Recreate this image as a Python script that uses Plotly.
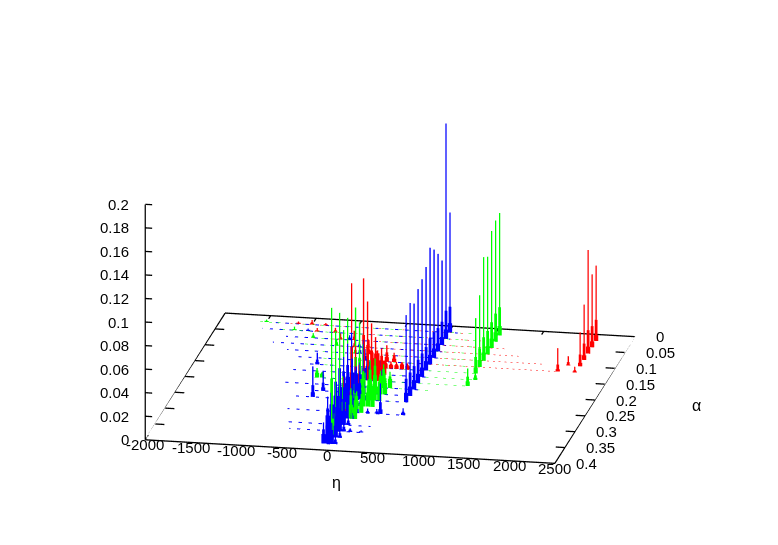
import plotly.graph_objects as go

ETA_RANGE = [-2000, 2500]
ALPHA_RANGE = [0.4, 0]
Z_RANGE = [0, 0.2]
ETA_TICKS = [-2000, -1500, -1000, -500, 0, 500, 1000, 1500, 2000, 2500]
ALPHA_TICKS = [0, 0.05, 0.1, 0.15, 0.2, 0.25, 0.3, 0.35, 0.4]
Z_TICKS = [0, 0.02, 0.04, 0.06, 0.08, 0.1, 0.12, 0.14, 0.16, 0.18, 0.2]

# Peaks: alpha, eta, top height, shoulder height, foot height
RED_A = [0.02, 0.04, 0.06, 0.08, 0.10, 0.12, 0.10, 0.12,
         0.26, 0.20, 0.18, 0.16, 0.14, 0.22, 0.24, 0.28, 0.30,
         0.16, 0.16, 0.16, 0.14, 0.14, 0.14, 0.12, 0.12,
         0.18, 0.18, 0.18, 0.16, 0.16, 0.14, 0.14,
         0.02, 0.02, 0.02, 0.04, 0.04, 0.06, 0.06, 0.08, 0.08, 0.10]
RED_E = [2120, 2120, 2120, 2120, 2120, 1918, 1990, 2105,
         -40, -40, -40, -40, -40, -40, -40, -40, -40,
         -30, 40, 100, 70, 130, 190, 40, 120,
         20, 70, 120, 10, 70, 250, 310,
         -1150, -1000, -850, -900, -700, -600, -450, -400, -250, -200]
RED_H = [0.064, 0.062, 0.088, 0.047, 0.029, 0.020, 0.008, 0.005,
         0.104, 0.092, 0.067, 0.043, 0.026, 0.050, 0.045, 0.040, 0.035,
         0.016, 0.018, 0.012, 0.007, 0.006, 0.006, 0.014, 0.008,
         0.024, 0.026, 0.020, 0.020, 0.022, 0.006, 0.005,
         0.002, 0.004, 0.002, 0.003, 0.004, 0.005, 0.008, 0.008, 0.007, 0.012]
RED_S = [0.018, 0.018, 0.020, 0.014, 0.010, 0.006, 0.003, 0.002,
         0.050, 0.044, 0.030, 0.020, 0.012, 0.024, 0.020, 0.018, 0.016,
         0.012, 0.012, 0.009, 0.005, 0.004, 0.004, 0.008, 0.006,
         0.018, 0.020, 0.016, 0.015, 0.016, 0.005, 0.004,
         0.001, 0.002, 0.001, 0.001, 0.002, 0.002, 0.003, 0.003, 0.003, 0.004]
RED_F = [0.005, 0.005, 0.006, 0.004, 0.003, 0.002, 0.001, 0.001,
         0.012, 0.012, 0.012, 0.010, 0.008, 0.010, 0.010, 0.010, 0.008,
         0.008, 0.008, 0.006, 0.004, 0.003, 0.003, 0.004, 0.003,
         0.012, 0.014, 0.012, 0.010, 0.012, 0.004, 0.003,
         0.001, 0.001, 0.001, 0.001, 0.001, 0.001, 0.001, 0.001, 0.001, 0.002]

GREEN_A = [0.02, 0.04, 0.06, 0.08, 0.10, 0.12, 0.14, 0.18, 0.16,
           0.36, 0.34, 0.32, 0.30, 0.28, 0.26, 0.24, 0.22, 0.20,
           0.18, 0.18, 0.26, 0.26, 0.24, 0.24, 0.22, 0.22, 0.20, 0.28, 0.28,
           0.30, 0.30, 0.26, 0.24, 0.22, 0.20,
           0.02, 0.04, 0.06, 0.08, 0.10]
GREEN_E = [1060, 1060, 1060, 1060, 1060, 1060, 1060, 1060, 1100,
           -40, -40, -40, -40, -40, -40, -40, -40, -40,
           -595, -540, 90, 140, 120, 170, 130, 190, 180, 60, 110,
           40, 85, 190, 220, 240, 250,
           -1500, -1150, -900, -600, -350]
GREEN_H = [0.104, 0.103, 0.0995, 0.083, 0.088, 0.061, 0.047, 0.015, 0.006,
           0.110, 0.085, 0.095, 0.075, 0.080, 0.070, 0.078, 0.060, 0.079,
           0.008, 0.005, 0.030, 0.022, 0.034, 0.026, 0.030, 0.020, 0.020, 0.018, 0.016,
           0.026, 0.022, 0.018, 0.020, 0.018, 0.014,
           0.002, 0.003, 0.004, 0.006, 0.008]
GREEN_S = [0.024, 0.024, 0.022, 0.020, 0.020, 0.016, 0.014, 0.008, 0.004,
           0.050, 0.040, 0.045, 0.036, 0.038, 0.034, 0.036, 0.030, 0.036,
           0.006, 0.004, 0.024, 0.018, 0.026, 0.020, 0.024, 0.016, 0.016, 0.014, 0.012,
           0.020, 0.016, 0.014, 0.016, 0.014, 0.010,
           0.001, 0.001, 0.002, 0.003, 0.003]
GREEN_F = [0.008, 0.008, 0.008, 0.007, 0.007, 0.006, 0.005, 0.004, 0.002,
           0.016, 0.015, 0.015, 0.014, 0.014, 0.013, 0.013, 0.012, 0.012,
           0.004, 0.003, 0.016, 0.012, 0.018, 0.014, 0.016, 0.012, 0.010, 0.010, 0.008,
           0.012, 0.010, 0.010, 0.012, 0.010, 0.008,
           0.001, 0.001, 0.001, 0.001, 0.001]

BLUE_A = [0.02, 0.04, 0.06, 0.08, 0.10, 0.12, 0.14, 0.16, 0.18, 0.20, 0.22, 0.24,
          0.38, 0.36, 0.34, 0.32, 0.30, 0.28, 0.26, 0.24, 0.22, 0.20, 0.18, 0.16,
          0.24, 0.22, 0.14, 0.28, 0.28, 0.28, 0.28, 0.34, 0.34,
          0.38, 0.38, 0.36, 0.36, 0.34, 0.34, 0.32, 0.32, 0.30, 0.30, 0.28, 0.28, 0.26, 0.26, 0.24, 0.24, 0.22, 0.22,
          0.38, 0.36, 0.34, 0.32, 0.30, 0.28, 0.26, 0.24,
          0.04, 0.06, 0.08, 0.10, 0.12, 0.14, 0.16, 0.18]
BLUE_E = [515, 515, 515, 515, 515, 515, 515, 515, 515, 515, 515, 515,
          -40, -40, -40, -40, -40, -40, -40, -40, -40, -40, -40, -40,
          -510, -440, -680, 320, 570, 180, 280, 120, 240,
          -85, 5, -85, 5, -85, 5, -85, 5, -85, 5, -85, 5, -85, 5, -85, 5, -85, 5,
          45, 50, 50, 55, 55, 60, 60, 60,
          -1000, -500, -350, -300, -200, -120, 60, 120]
BLUE_H = [0.102, 0.183, 0.072, 0.083, 0.092, 0.099, 0.088, 0.083, 0.08, 0.073, 0.079, 0.074,
          0.040, 0.055, 0.070, 0.086, 0.052, 0.058, 0.062, 0.035, 0.026, 0.040, 0.030, 0.020,
          0.026, 0.017, 0.010, 0.026, 0.006, 0.004, 0.004, 0.003, 0.002,
          0.018, 0.018, 0.026, 0.026, 0.030, 0.030, 0.032, 0.032, 0.034, 0.034, 0.032, 0.032, 0.030, 0.030, 0.024, 0.024, 0.018, 0.018,
          0.006, 0.006, 0.007, 0.007, 0.008, 0.008, 0.008, 0.006,
          0.002, 0.004, 0.004, 0.008, 0.010, 0.012, 0.012, 0.010]
BLUE_S = [0.022, 0.024, 0.020, 0.020, 0.022, 0.022, 0.020, 0.020, 0.020, 0.020, 0.020, 0.020,
          0.030, 0.038, 0.042, 0.048, 0.040, 0.040, 0.040, 0.028, 0.020, 0.024, 0.018, 0.012,
          0.010, 0.007, 0.004, 0.010, 0.003, 0.002, 0.002, 0.002, 0.001,
          0.012, 0.012, 0.018, 0.018, 0.020, 0.020, 0.022, 0.022, 0.022, 0.022, 0.020, 0.020, 0.018, 0.018, 0.014, 0.014, 0.010, 0.010,
          0.004, 0.004, 0.004, 0.004, 0.005, 0.005, 0.005, 0.004,
          0.001, 0.002, 0.002, 0.003, 0.004, 0.005, 0.005, 0.004]
BLUE_F = [0.008, 0.008, 0.007, 0.007, 0.008, 0.008, 0.008, 0.008, 0.008, 0.008, 0.008, 0.008,
          0.024, 0.028, 0.030, 0.032, 0.030, 0.030, 0.028, 0.022, 0.016, 0.016, 0.012, 0.008,
          0.004, 0.003, 0.002, 0.004, 0.002, 0.001, 0.001, 0.001, 0.001,
          0.008, 0.008, 0.010, 0.010, 0.012, 0.012, 0.012, 0.012, 0.012, 0.012, 0.012, 0.012, 0.010, 0.010, 0.008, 0.008, 0.006, 0.006,
          0.002, 0.002, 0.002, 0.002, 0.003, 0.003, 0.003, 0.002,
          0.001, 0.001, 0.001, 0.001, 0.002, 0.002, 0.003, 0.002]

# Faint low traces of each row: alpha, first eta, last eta
BLUE_ROW_A = [0.02, 0.04, 0.06, 0.08, 0.10, 0.12, 0.14, 0.16, 0.18, 0.20, 0.22, 0.24, 0.28, 0.32, 0.34, 0.38]
BLUE_ROW_START = [-1400, -1500, -1200, -1300, -1100, -1000, -800, -900, -600, -900, -600, -700, -700, -600, -550, -100]
BLUE_ROW_END = [600, 560, 560, 560, 560, 560, 560, 560, 560, 560, 560, 520, 600, 300, 250, 60]
GREEN_ROW_A = [0.02, 0.04, 0.06, 0.08, 0.10, 0.12, 0.14, 0.16, 0.18, 0.20, 0.24]
GREEN_ROW_START = [-1570, -1300, -1100, -950, -800, -700, -600, -550, -650, -350, -200]
GREEN_ROW_END = [800, 900, 1000, 1060, 1060, 1060, 1060, 1100, 1060, 700, 500]
RED_ROW_A = [0.02, 0.04, 0.06, 0.08, 0.10, 0.12, 0.14]
RED_ROW_START = [-1300, -1000, -800, -600, -500, -300, -100]
RED_ROW_END = [700, 900, 1200, 1400, 1700, 1920, 500]
SHOULDER_STEP = 8
FOOT_STEP = 16
SCALE = 1.53
SHIFT_X, SHIFT_Y, SHIFT_Z = 0.0253, 0.0048, -0.0386
VIEW = (0.187 * 0.953 * 2, -0.982 * 0.953 * 2, 0.302 * 2)
TICK_FONT = dict(family="Liberation Sans", size=15, color="black")
LABEL_FONT = dict(family="Liberation Sans", size=16, color="black")

def peak_trace(colour, alphas, etas, tops, shoulders, feet):
    x, y, z = [], [], []
    for a, e, h, s, f in zip(alphas, etas, tops, shoulders, feet):
        for ex, hz in [(e, h), (e - SHOULDER_STEP, s), (e + SHOULDER_STEP, s), (e - FOOT_STEP, f), (e + FOOT_STEP, f)]:
            x += [ex, ex, None]; y += [a, a, None]; z += [0, hz, None]
    return go.Scatter3d(x=x, y=y, z=z, mode="lines", line=dict(color=colour, width=2.6), hoverinfo="skip")

def row_trace(colour, alphas, starts, ends, width):
    x, y, z = [], [], []
    for a, s, e in zip(alphas, starts, ends):
        x += [s, e, None]; y += [a, a, None]; z += [0, 0, None]
    return go.Scatter3d(x=x, y=y, z=z, mode="lines", line=dict(color=colour, width=width, dash="dot"), hoverinfo="skip")

def frame_trace():
    e0, e1 = ETA_RANGE
    a1, a0 = ALPHA_RANGE
    x = [e0, e1, e1, e0, e0, None, e0, e0, None]
    y = [a1, a1, a0, a0, a1, None, a1, a1, None]
    z = [0, 0, 0, 0, 0, None, 0, Z_RANGE[1], None]
    for t in ALPHA_TICKS[1:-1]:
        x += [e0, e0 + 100, None, e1, e1 - 100, None]; y += [t, t, None, t, t, None]; z += [0, 0, None, 0, 0, None]
    for t in Z_TICKS:
        x += [e0, e0 + 75, None]; y += [a1, a1, None]; z += [t, t, None]
    for t in ETA_TICKS[1:-1]:
        x += [t, t, None]; y += [a0, a0 + 0.01, None]; z += [0, 0, None]
    return go.Scatter3d(x=x, y=y, z=z, mode="lines", line=dict(color="black", width=2.6), hoverinfo="skip")

fig = go.Figure([
    row_trace("#ff0000", RED_ROW_A, RED_ROW_START, RED_ROW_END, 1),
    row_trace("#00ff00", GREEN_ROW_A, GREEN_ROW_START, GREEN_ROW_END, 1),
    row_trace("#0000ff", BLUE_ROW_A, BLUE_ROW_START, BLUE_ROW_END, 2),
    peak_trace("#ff0000", RED_A, RED_E, RED_H, RED_S, RED_F),
    peak_trace("#00ff00", GREEN_A, GREEN_E, GREEN_H, GREEN_S, GREEN_F),
    peak_trace("#0000ff", BLUE_A, BLUE_E, BLUE_H, BLUE_S, BLUE_F),
    frame_trace(),
])

tick_notes = []
for t in Z_TICKS:
    tick_notes.append(dict(x=ETA_RANGE[0], y=ALPHA_RANGE[0], z=t, text=str(t), showarrow=False, font=TICK_FONT, xanchor="right", xshift=-14))
for t in ETA_TICKS:
    tick_notes.append(dict(x=t, y=ALPHA_RANGE[0], z=0, text=str(t), showarrow=False, font=TICK_FONT, xanchor="center", yshift=-5))
for t in ALPHA_TICKS:
    tick_notes.append(dict(x=ETA_RANGE[1], y=t, z=0, text=str(t), showarrow=False, font=TICK_FONT, xanchor="left", xshift=19))

def ax(r, t):
    return dict(range=r, tickvals=t, showticklabels=False, showgrid=False, showbackground=False, zeroline=False,
                showspikes=False, title=dict(text=""), showline=False, ticks="")
fig.update_layout(width=778, height=545, margin=dict(l=0, r=0, t=0, b=0), paper_bgcolor="white", showlegend=False,
    font=dict(family="Liberation Sans", color="black"),
    annotations=[
        dict(text="η", x=328/778, y=1-485/545, xref="paper", yref="paper", showarrow=False, font=LABEL_FONT),
        dict(text="α", x=695/778, y=1-408/545, xref="paper", yref="paper", showarrow=False, font=LABEL_FONT),
    ],
    scene=dict(domain=dict(x=[0, 1], y=[0, 1]), xaxis=ax(ETA_RANGE, ETA_TICKS), yaxis=ax(ALPHA_RANGE, ALPHA_TICKS), zaxis=ax(Z_RANGE, Z_TICKS),
        annotations=tick_notes,
        aspectmode="manual", aspectratio=dict(x=SCALE, y=SCALE*426/416, z=SCALE*246.5/416),
        camera=dict(projection=dict(type="orthographic"), up=dict(x=0, y=0, z=1),
                    center=dict(x=SHIFT_X, y=SHIFT_Y, z=SHIFT_Z),
                    eye=dict(x=VIEW[0]+SHIFT_X, y=VIEW[1]+SHIFT_Y, z=VIEW[2]+SHIFT_Z))))
fig.write_html("out.html")
